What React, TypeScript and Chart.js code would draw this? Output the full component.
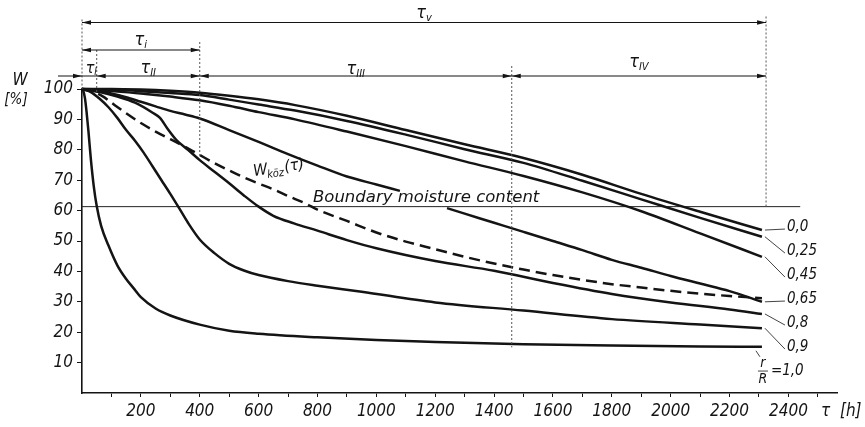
import React, { useEffect, useRef } from 'react';
import { Chart, registerables } from 'chart.js';

Chart.register(...registerables);

const FONT = "'DejaVu Sans Condensed', 'DejaVu Sans', sans-serif";
const FONT_WIDE = "'DejaVu Sans', sans-serif";
const INK = '#141414';

// axis ticks
const xTickValues = [100, 200, 300, 400, 500, 600, 700, 800, 900, 1000, 1100, 1200, 1300, 1400, 1500, 1600, 1700, 1800, 1900, 2000, 2100, 2200, 2300, 2400, 2500];
const xLabelValues = [200, 400, 600, 800, 1000, 1200, 1400, 1600, 1800, 2000, 2200, 2400];
const yTickValues = [10, 20, 30, 40, 50, 60, 70, 80, 90, 100];

// curve labels (r/R)
const ratioLabels = ['0,0', '0,25', '0,45', '0,65', '0,8', '0,9', '1,0'];

// r/R = 0.0
const t00 = [0, 100, 200, 300, 400, 500, 600, 724, 900, 1100, 1300, 1500, 1700, 1900, 2100, 2310];
const w00 = [100, 100, 99.8, 99.4, 98.8, 97.8, 96.6, 94.7, 91.2, 86.5, 81.8, 77.3, 71.8, 65.5, 59.6, 53.6];
// r/R = 0.25
const t025 = [0, 100, 200, 300, 400, 500, 600, 724, 900, 1100, 1300, 1500, 1700, 1900, 2100, 2310];
const w025 = [100, 99.8, 99.3, 98.7, 98, 96.5, 94.9, 92.9, 89.5, 85, 80.2, 75.7, 69.8, 63.7, 57.6, 51.4];
// r/R = 0.45
const t045 = [0, 100, 200, 300, 400, 500, 600, 724, 900, 1100, 1300, 1500, 1700, 1900, 2100, 2310];
const w045 = [100, 99.3, 98.5, 97.5, 96.3, 94.5, 92.4, 90, 86, 81.2, 76.2, 71.4, 66, 59.8, 52.5, 44.8];
// r/R = 0.65 (interrupted by the "Boundary moisture content" text)
const t065 = [0, 50, 100, 150, 200, 250, 300, 350, 400, 500, 600, 700, 800, 900, 1000, 1080, 1160, 1240, 1300, 1400, 1500, 1600, 1700, 1800, 1900, 2000, 2100, 2200, 2310];
const w065 = [100, 99.4, 98.5, 97.3, 95.8, 94.3, 92.8, 91.6, 90.3, 86.5, 82.6, 78.6, 74.8, 71.2, 68.6, 66.5, null, 60.8, 59, 56, 53, 50, 47, 43.8, 41.2, 38.5, 36, 33.5, 30];
// r/R = 0.8
const t08 = [0, 60, 120, 180, 240, 265, 290, 320, 360, 400, 450, 500, 550, 600, 650, 720, 800, 900, 1000, 1200, 1400, 1600, 1800, 2000, 2200, 2310];
const w08 = [100, 99, 97.5, 95.5, 92.2, 90.5, 87, 83.3, 80, 76.6, 72.8, 69, 65, 61.3, 58.3, 55.8, 53.4, 50.3, 47.6, 43.4, 40.2, 36.2, 32.6, 29.8, 27.5, 26];
// r/R = 0.9
const t09 = [0, 30, 60, 90, 120, 150, 180, 210, 240, 270, 300, 330, 360, 400, 450, 500, 550, 600, 700, 800, 950, 1200, 1500, 1800, 2100, 2310];
const w09 = [100, 99, 96.8, 94, 90.5, 86.5, 83, 79, 74.5, 70, 65.5, 60.8, 56, 50.5, 46, 42.5, 40.3, 38.8, 36.8, 35.3, 33.3, 29.8, 27.1, 24.3, 22.5, 21.3];
// r/R = 1.0
const t10 = [0, 4, 10, 16, 22, 30, 40, 50, 65, 90, 120, 150, 175, 200, 250, 300, 400, 500, 600, 800, 1000, 1200, 1500, 1800, 2100, 2310];
const w10 = [100, 99.5, 97, 92, 86, 77, 68, 61.5, 55, 48.5, 42, 37.5, 34.5, 31.5, 27.8, 25.5, 22.5, 20.5, 19.5, 18.3, 17.4, 16.8, 16, 15.6, 15.3, 15.2];
// mean moisture W_köz(τ)
const tMean = [0, 40, 72, 100, 150, 200, 250, 300, 350, 400, 450, 500, 550, 600, 650, 700, 760, 800, 900, 1000, 1100, 1200, 1300, 1400, 1500, 1600, 1700, 1800, 1900, 2000, 2100, 2200, 2310];
const wMean = [100, 99, 97.5, 95.5, 92, 88.8, 86, 83.5, 81, 78.3, 75.6, 73.2, 70.9, 68.9, 67, 64.8, 62.3, 60.3, 56.6, 52.8, 49.8, 47.3, 44.8, 42.6, 40.6, 38.8, 37.2, 35.8, 34.7, 33.6, 32.7, 31.9, 31.2];

// boundary moisture content
const boundaryMoisture = 61.3;
const boundaryT = [0, 2440];

// period boundaries τ (h): 0, end of τ_I, end of τ_i, end of τ_III, end of τ_v
const periodBounds = [0, 50, 400, 1460, 2324];

const pts = (t: number[], w: (number | null)[]) => t.map((x, i) => ({ x, y: w[i] }));

const curves = [
  { t: t00, w: w00 },
  { t: t025, w: w025 },
  { t: t045, w: w045 },
  { t: t065, w: w065 },
  { t: t08, w: w08 },
  { t: t09, w: w09 },
  { t: t10, w: w10 },
];

function drawTau(ctx: CanvasRenderingContext2D, cx: number, cy: number, sub: string, size = 18) {
  ctx.font = `italic ${size}px ${FONT}`;
  const w1 = ctx.measureText('τ').width;
  ctx.font = `italic ${Math.round(size * 0.62)}px ${FONT}`;
  const w2 = ctx.measureText(sub).width;
  const x0 = cx - (w1 + w2) / 2;
  ctx.textBaseline = 'alphabetic';
  ctx.textAlign = 'left';
  ctx.font = `italic ${size}px ${FONT}`;
  ctx.fillText('τ', x0, cy + size * 0.3);
  ctx.font = `italic ${Math.round(size * 0.62)}px ${FONT}`;
  ctx.fillText(sub, x0 + w1, cy + size * 0.45);
}

const annotate = {
  id: 'annotate',
  afterDatasetsDraw(chart: any) {
    const { ctx, chartArea: a, scales } = chart;
    const x = scales.x, y = scales.y;
    const px = (t: number) => x.getPixelForValue(t);
    const py = (w: number) => y.getPixelForValue(w);
    const P = periodBounds.map(px);
    const row1 = a.top - 66.5, row2 = a.top - 39, row3 = a.top - 13;
    ctx.save();
    ctx.fillStyle = INK;
    ctx.strokeStyle = INK;

    const line = (x1: number, y1: number, x2: number, y2: number) => {
      ctx.beginPath(); ctx.moveTo(x1, y1); ctx.lineTo(x2, y2); ctx.stroke();
    };
    const arrow = (tip: number, yy: number, dir: number) => {
      ctx.beginPath();
      ctx.moveTo(tip, yy);
      ctx.lineTo(tip - dir * 9, yy - 2.3);
      ctx.lineTo(tip - dir * 9, yy + 2.3);
      ctx.closePath();
      ctx.fill();
    };

    // dotted verticals
    ctx.lineWidth = 1;
    ctx.strokeStyle = '#555';
    ctx.setLineDash([2, 2]);
    line(P[0], row1 - 3, P[0], a.top);
    line(P[1], row2, P[1], a.top + 4);
    line(P[2], row2 - 8, P[2], py(78));
    line(P[3], row3 - 10, P[3], py(15));
    line(P[4], row1 - 6, P[4], py(boundaryMoisture));
    ctx.setLineDash([]);
    ctx.strokeStyle = INK;

    // dimension rows
    ctx.lineWidth = 1.2;
    line(P[0], row1, P[4], row1);
    arrow(P[0], row1, -1); arrow(P[4], row1, 1);
    line(P[0], row2, P[2], row2);
    arrow(P[0], row2, -1); arrow(P[2], row2, 1);
    line(P[0] - 24, row3, P[4], row3);
    arrow(P[0], row3, 1); arrow(P[1], row3, -1);
    arrow(P[2], row3, 1); arrow(P[2], row3, -1);
    arrow(P[3], row3, 1); arrow(P[3], row3, -1);
    arrow(P[4], row3, 1);

    drawTau(ctx, (P[0] + P[4]) / 2, row1 - 10, 'v');
    drawTau(ctx, (P[0] + P[2]) / 2, row2 - 10, 'i');
    drawTau(ctx, (P[0] + P[1]) / 2 + 2, row3 - 8, 'I', 16);
    drawTau(ctx, (P[1] + P[2]) / 2, row3 - 8, 'II');
    drawTau(ctx, (P[2] + P[3]) / 2, row3 - 7, 'III');
    drawTau(ctx, (P[3] + P[4]) / 2, row3 - 14, 'IV');

    // axis titles
    ctx.textAlign = 'center';
    ctx.textBaseline = 'middle';
    ctx.font = `italic 17px ${FONT}`;
    ctx.fillText('W', 20, a.top - 8);
    ctx.font = `italic 15px ${FONT}`;
    ctx.fillText('[%]', 16, a.top + 11);
    ctx.textAlign = 'left';
    ctx.font = `italic 17px ${FONT}`;
    ctx.fillText('τ  [h]', 821, a.bottom + 19);

    // W_köz(τ)
    ctx.save();
    ctx.translate(254, 176);
    ctx.rotate(-0.14);
    ctx.textBaseline = 'alphabetic';
    ctx.font = `italic 16px ${FONT}`;
    ctx.fillText('W', 0, 0);
    let off = ctx.measureText('W').width;
    ctx.font = `italic 11px ${FONT}`;
    ctx.fillText('köz', off - 1, 4);
    off += ctx.measureText('köz').width;
    ctx.font = `italic 16px ${FONT}`;
    ctx.fillText('(τ)', off, 0);
    ctx.restore();

    // boundary moisture content label
    ctx.textBaseline = 'alphabetic';
    ctx.font = `italic 16.5px ${FONT_WIDE}`;
    ctx.fillText('Boundary moisture content', 313, py(boundaryMoisture) - 5);

    // curve end labels with leaders
    ctx.lineWidth = 0.8;
    ctx.font = `italic 15px ${FONT}`;
    ctx.textBaseline = 'middle';
    const firstEnd = py(curves[0].w[curves[0].w.length - 1] as number);
    curves.forEach((c, i) => {
      const tEnd = c.t[c.t.length - 1];
      const wEnd = c.w[c.w.length - 1] as number;
      const ex = px(tEnd) + 3, ey = py(wEnd);
      const ly = firstEnd - 3 + i * 24;
      const lx = px(tEnd) + 25;
      if (i < ratioLabels.length - 1) {
        line(ex, ey, lx - 2, ly + 2);
        ctx.fillText(ratioLabels[i], lx, ly);
      } else {
        line(ex - 9, ey + 4, ex - 5, ey + 10);
        const fx = px(tEnd) + 1;
        ctx.textAlign = 'center';
        ctx.font = `italic 14px ${FONT}`;
        ctx.fillText('r', fx, ly - 8);
        ctx.fillText('R', fx, ly + 8);
        line(fx - 5, ly, fx + 5, ly);
        ctx.textAlign = 'left';
        ctx.font = `italic 15px ${FONT}`;
        ctx.fillText('=' + ratioLabels[i], fx + 8, ly);
      }
    });
    ctx.restore();
  },
};

export default function App() {
  const ref = useRef<HTMLCanvasElement | null>(null);
  useEffect(() => {
    if (!ref.current) return;
    const lineDs = (c: { t: number[]; w: (number | null)[] }) => ({
      data: pts(c.t, c.w),
      borderColor: INK,
      borderWidth: 2.5,
      pointRadius: 0,
      fill: false,
      spanGaps: false,
      cubicInterpolationMode: 'monotone' as const,
      clip: false as any,
    });
    const chart = new Chart(ref.current, {
      type: 'line',
      data: {
        datasets: [
          ...curves.map(lineDs),
          {
            ...lineDs({ t: tMean, w: wMean }),
            borderDash: [11, 6],
          },
          {
            data: pts(boundaryT, boundaryT.map(() => boundaryMoisture)),
            borderColor: '#222',
            borderWidth: 1,
            pointRadius: 0,
            fill: false,
            clip: false as any,
          },
        ],
      },
      options: {
        responsive: false,
        animation: false,
        devicePixelRatio: 1,
        layout: { padding: { top: 89, right: 28, bottom: 0, left: 0 } },
        plugins: { legend: { display: false }, tooltip: { enabled: false } },
        scales: {
          x: {
            type: 'linear',
            min: 0,
            max: 2565,
            afterBuildTicks: (s: any) => { s.ticks = xTickValues.map((v) => ({ value: v })); },
            afterFit: (s: any) => { s.height = 34; },
            ticks: {
              autoSkip: false,
              maxRotation: 0,
              padding: 4,
              color: INK,
              font: { family: FONT, size: 17, style: 'italic' },
              callback: (v: any) => (xLabelValues.includes(Number(v)) ? String(v) : ''),
            },
            grid: { drawOnChartArea: false, drawTicks: true, tickLength: 4, color: INK, lineWidth: 1 },
            border: { display: true, color: INK, width: 1.6 },
          },
          y: {
            type: 'linear',
            min: 0,
            max: 100,
            afterBuildTicks: (s: any) => { s.ticks = yTickValues.map((v) => ({ value: v })); },
            afterFit: (s: any) => { s.width = 82; },
            ticks: {
              autoSkip: false,
              padding: 4,
              color: INK,
              font: { family: FONT, size: 17, style: 'italic' },
            },
            grid: { drawOnChartArea: false, drawTicks: true, tickLength: 5, color: INK, lineWidth: 1 },
            border: { display: true, color: INK, width: 1.6 },
          },
        },
      },
      plugins: [annotate],
    });
    return () => chart.destroy();
  }, []);
  return (
    <div style={{ position: 'fixed', left: 0, top: 0, width: 865, height: 427, background: '#fff' }}>
      <canvas ref={ref} width={865} height={427} style={{ display: 'block' }} />
    </div>
  );
}
